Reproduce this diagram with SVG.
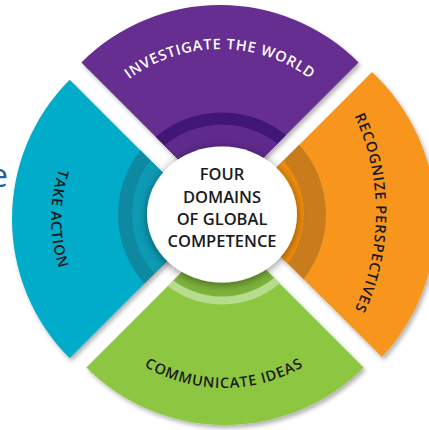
<svg xmlns="http://www.w3.org/2000/svg" xmlns:xlink="http://www.w3.org/1999/xlink" width="429" height="430" viewBox="0 0 429 430">
<style>
.lbl{font-family:"Open Sans","Liberation Sans",sans-serif;font-weight:600;font-size:14.5px;letter-spacing:0.8px}
.dark{fill:#1a1a1a}
.white{fill:#ffffff}
.ctr{font-family:"Open Sans","Liberation Sans",sans-serif;font-weight:600;font-size:16.5px;fill:#1a1a1a;text-anchor:middle}
</style>
<defs>
<filter id="segShadow" x="-10%" y="-10%" width="130%" height="130%">
<feDropShadow dx="2" dy="3" stdDeviation="2" flood-color="#000" flood-opacity="0.3"/>
</filter>
<filter id="discShadow" x="-30%" y="-30%" width="160%" height="160%">
<feDropShadow dx="0" dy="2" stdDeviation="5" flood-color="#000" flood-opacity="0.45"/>
</filter>
<path id="seg-purple" d="M 220 201 L 81.4 62.4 A 196 196 0 0 1 358.6 62.4 Z"/>
<path id="seg-cyan" d="M 209 219 L 69.7 79.7 A 197 197 0 0 0 69.7 358.3 Z"/>
<path id="seg-green" d="M 225 229 L 86.4 367.6 A 196 196 0 0 0 363.6 367.6 Z"/>
<path id="seg-orange" d="M 234 210 L 372 72 A 202 202 0 0 1 382 357 Z"/>
<clipPath id="clip-purple"><use xlink:href="#seg-purple"/></clipPath>
<clipPath id="clip-cyan"><use xlink:href="#seg-cyan"/></clipPath>
<clipPath id="clip-green"><use xlink:href="#seg-green"/></clipPath>
<clipPath id="clip-orange"><use xlink:href="#seg-orange"/></clipPath>
<path id="tp-purple" d="M 88.4 125 A 152 152 0 0 1 351.6 125"/>
<path id="tp-cyan" d="M 97.3 107.3 A 158 158 0 0 0 97.3 330.7"/>
<path id="tp-orange" d="M 345.2 98 A 230 230 0 0 1 345.2 328"/>
<path id="tp-green" d="M 87.2 309 A 158 158 0 0 0 360.8 309"/>
</defs>
<rect width="429" height="430" fill="#ffffff"/>
<text x="-10" y="187" font-family="'Open Sans','Liberation Sans',sans-serif" font-size="32" fill="#1f5fa6">e</text>
<g id="connectors"/>
<g id="investigate">
<g filter="url(#segShadow)">
<use xlink:href="#seg-purple" fill="#662d91"/>
<g clip-path="url(#clip-purple)">
<circle cx="222" cy="214.5" r="102" fill="#3f1276"/>
<circle cx="222" cy="214.5" r="90" fill="#5f2a8c"/>
</g>
</g>
<text class="lbl white"><textPath xlink:href="#tp-purple" startOffset="50%" text-anchor="middle">INVESTIGATE THE WORLD</textPath></text>
</g>
<g id="take-action">
<g filter="url(#segShadow)">
<use xlink:href="#seg-cyan" fill="#05acc9"/>
<g clip-path="url(#clip-cyan)">
<circle cx="222" cy="214.5" r="104" fill="#0a8aa1"/>
<circle cx="222" cy="214.5" r="90" fill="#0b9ab4"/>
</g>
</g>
<text class="lbl dark"><textPath xlink:href="#tp-cyan" startOffset="50%" text-anchor="middle">TAKE ACTION</textPath></text>
</g>
<g id="communicate">
<g filter="url(#segShadow)">
<use xlink:href="#seg-green" fill="#8dc63f"/>
<g clip-path="url(#clip-green)">
<circle cx="222" cy="214.5" r="90" fill="#b7dc8e"/>
<circle cx="222" cy="214.5" r="82" fill="#7cb33a"/>
</g>
</g>
<text class="lbl dark"><textPath xlink:href="#tp-green" startOffset="50%" text-anchor="middle">COMMUNICATE IDEAS</textPath></text>
</g>
<g id="recognize">
<g filter="url(#segShadow)">
<use xlink:href="#seg-orange" fill="#f7951f"/>
<g clip-path="url(#clip-orange)">
<circle cx="222" cy="214.5" r="104" fill="#c97c1d"/>
<circle cx="222" cy="214.5" r="82" fill="#ec8c10"/>
</g>
</g>
<text class="lbl dark"><textPath xlink:href="#tp-orange" startOffset="50%" text-anchor="middle">RECOGNIZE PERSPECTIVES</textPath></text>
</g>
<g id="center">
<ellipse cx="222" cy="214.5" rx="75" ry="68" fill="#ffffff" filter="url(#discShadow)"/>
<text class="ctr" x="222" y="180">FOUR</text>
<text class="ctr" x="222" y="203">DOMAINS</text>
<text class="ctr" x="222" y="225">OF GLOBAL</text>
<text class="ctr" x="222" y="247">COMPETENCE</text>
</g>
</svg>
